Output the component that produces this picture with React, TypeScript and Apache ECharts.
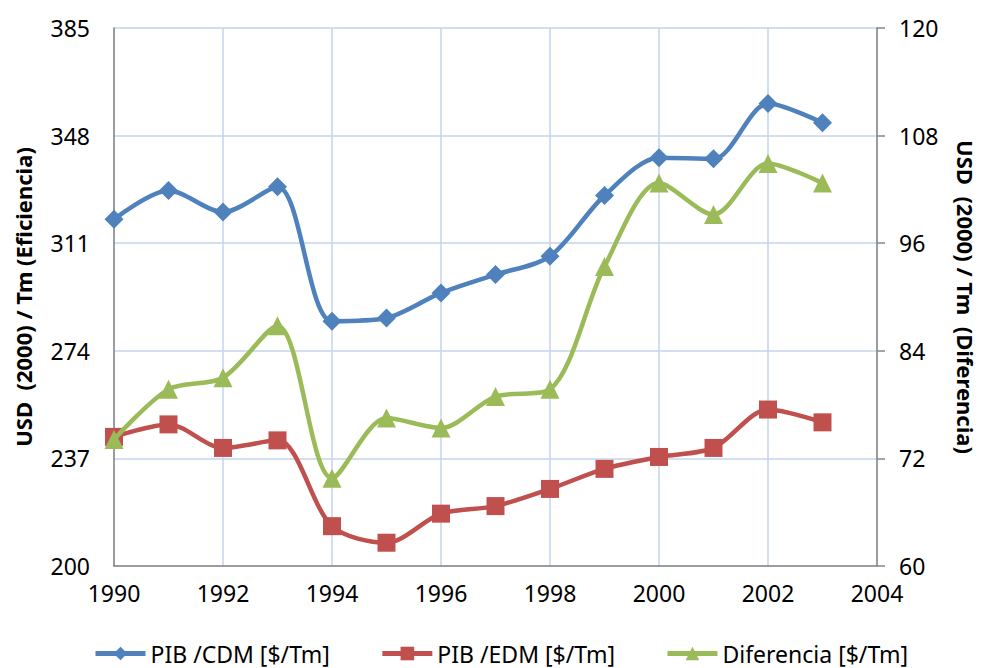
import React, { useEffect, useRef } from "react";
import * as echarts from "echarts";

const years = [1990, 1991, 1992, 1993, 1994, 1995, 1996, 1997, 1998, 1999, 2000, 2001, 2002, 2003];
const pibCdm = [319.2, 329.1, 321.7, 330.4, 284.2, 285.3, 293.9, 300.2, 306.5, 327.4, 340.4, 340.0, 359.0, 352.4];
const pibEdm = [244.4, 248.7, 240.6, 243.2, 213.7, 208.0, 218.0, 220.6, 226.5, 233.4, 237.5, 240.6, 253.8, 249.4];
const diferencia = [74.1, 79.7, 81.0, 86.8, 69.8, 76.5, 75.4, 78.9, 79.7, 93.4, 102.7, 99.2, 104.9, 102.7];
const seriesNames = ["PIB /CDM [$/Tm]", "PIB /EDM [$/Tm]", "Diferencia [$/Tm]"];
const leftAxisTitle = "USD  (2000) / Tm (Eficiencia)";
const rightAxisTitle = "USD  (2000) / Tm  (Diferencia)";

const FONT = "Noto Sans";
const GRID_COLOR = "#c6d3ec";
const AXIS_COLOR = "#868686";

export default function App() {
  const ref = useRef<HTMLDivElement>(null);
  useEffect(() => {
    document.body.style.margin = "0";
    if (!ref.current) return;
    const chart = echarts.init(ref.current, undefined, { renderer: "svg" });
    const pair = (arr: number[]) => years.map((y, i) => [y, arr[i]]);
    chart.setOption({
      animation: false,
      backgroundColor: "#ffffff",
      textStyle: { fontFamily: FONT },
      grid: { left: 114, right: 104, top: 28, bottom: 102, containLabel: false, outerBoundsMode: "none" },
      legend: {
        top: 637,
        left: 88,
        itemWidth: 50,
        itemHeight: 17,
        itemGap: 50,
        lineStyle: { width: 5 },
        textStyle: { fontFamily: FONT, fontSize: 23, color: "#000" },
        data: seriesNames,
      },
      xAxis: {
        type: "value",
        min: 1990,
        max: 2004,
        interval: 2,
        axisLine: { show: true, lineStyle: { color: AXIS_COLOR, width: 1.5 } },
        axisTick: { show: false },
        splitLine: { show: true, lineStyle: { color: GRID_COLOR, width: 1.5 } },
        axisLabel: {
          formatter: (v: number) => String(v),
          fontFamily: FONT,
          fontSize: 23,
          color: "#000",
          margin: 15,
        },
      },
      yAxis: [
        {
          type: "value",
          min: 200,
          max: 385,
          interval: 37,
          position: "left",
          name: leftAxisTitle,
          nameLocation: "middle",
          nameRotate: 90,
          nameGap: 80,
          nameTextStyle: { fontFamily: FONT, fontSize: 22, lineHeight: 22, fontWeight: "bold", color: "#000" },
          axisLine: { show: true, lineStyle: { color: AXIS_COLOR, width: 1.5 } },
          axisTick: { show: false },
          splitLine: { show: true, lineStyle: { color: GRID_COLOR, width: 1.5 } },
          axisLabel: { fontFamily: FONT, fontSize: 23, color: "#000", margin: 24 },
        },
        {
          type: "value",
          min: 60,
          max: 120,
          interval: 12,
          position: "right",
          name: rightAxisTitle,
          nameLocation: "middle",
          nameRotate: -90,
          nameGap: 78,
          nameTextStyle: { fontFamily: FONT, fontSize: 22, lineHeight: 22, fontWeight: "bold", color: "#000" },
          axisLine: { show: true, lineStyle: { color: AXIS_COLOR, width: 1.5 } },
          axisTick: { show: true, length: 8, inside: false, lineStyle: { color: AXIS_COLOR, width: 1.5 } },
          splitLine: { show: false },
          axisLabel: { fontFamily: FONT, fontSize: 23, color: "#000", margin: 22 },
        },
      ],
      series: [
        {
          name: seriesNames[0],
          type: "line",
          yAxisIndex: 0,
          data: pair(pibCdm),
          smooth: 0.3,
          symbol: "diamond",
          symbolSize: 19,
          lineStyle: { color: "#4f81bd", width: 4.5 },
          itemStyle: { color: "#4f81bd" },
          z: 3,
        },
        {
          name: seriesNames[1],
          type: "line",
          yAxisIndex: 0,
          data: pair(pibEdm),
          smooth: 0.3,
          symbol: "rect",
          symbolSize: 18,
          lineStyle: { color: "#c0504d", width: 4.5 },
          itemStyle: { color: "#c0504d" },
          z: 4,
        },
        {
          name: seriesNames[2],
          type: "line",
          yAxisIndex: 1,
          data: pair(diferencia),
          smooth: 0.3,
          symbol: "triangle",
          symbolSize: 19,
          lineStyle: { color: "#9bbb59", width: 4.5 },
          itemStyle: { color: "#9bbb59" },
          z: 5,
        },
      ],
    });
    return () => chart.dispose();
  }, []);
  return <div ref={ref} style={{ width: 981, height: 668 }} />;
}
